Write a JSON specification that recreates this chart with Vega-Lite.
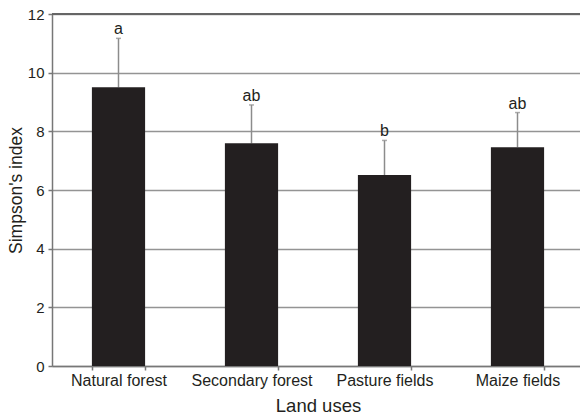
{
  "$schema": "https://vega.github.io/schema/vega-lite/v6.json",
  "autosize": {"type": "none"},
  "width": 532,
  "height": 352,
  "padding": {"left": 52, "top": 14, "right": 0, "bottom": 51},
  "background": "white",
  "config": {
    "view": {"stroke": null},
    "font": "Liberation Sans",
    "axis": {"labelColor": "#231f20", "titleColor": "#231f20", "titleFontWeight": "normal"}
  },
  "data": {
    "values": [
      {"land": "Natural forest", "mean": 9.5, "err": 11.17, "letter": "a"},
      {"land": "Secondary forest", "mean": 7.59, "err": 8.9, "letter": "ab"},
      {"land": "Pasture fields", "mean": 6.51, "err": 7.69, "letter": "b"},
      {"land": "Maize fields", "mean": 7.46, "err": 8.64, "letter": "ab"}
    ]
  },
  "encoding": {
    "x": {
      "field": "land",
      "type": "nominal",
      "sort": null,
      "scale": {"paddingInner": 0.6, "paddingOuter": 0.3},
      "axis": {
        "title": "Land uses",
        "labelAngle": 0,
        "labelFontSize": 16,
        "titleFontSize": 18.5,
        "tickBand": "extent",
        "tickSize": 4,
        "tickColor": "#777",
        "tickWidth": 1.5,
        "domainColor": "#777",
        "domainWidth": 1.5,
        "labelPadding": 2,
        "titleY": 39,
        "titleBaseline": "middle",
        "grid": false
      }
    }
  },
  "layer": [
    {
      "mark": {"type": "rule", "color": "#8c8c8c", "strokeWidth": 1.5},
      "encoding": {
        "y": {"field": "mean", "type": "quantitative"},
        "y2": {"field": "err"}
      }
    },
    {
      "mark": {"type": "tick", "color": "#8c8c8c", "size": 5, "thickness": 1.5, "orient": "horizontal"},
      "encoding": {
        "y": {"field": "err", "type": "quantitative"}
      }
    },
    {
      "mark": {"type": "bar", "color": "#231f20"},
      "encoding": {
        "y": {
          "field": "mean",
          "type": "quantitative",
          "scale": {"domain": [0, 12], "nice": false},
          "axis": {
            "title": "Simpson's index",
            "values": [0, 2, 4, 6, 8, 10, 12],
            "labelFontSize": 15,
            "titleFontSize": 17.5,
            "grid": true,
            "gridColor": "#949494",
            "gridWidth": 1.5,
            "tickSize": 4,
            "tickColor": "#777",
            "tickWidth": 1.5,
            "domainColor": "#777",
            "domainWidth": 1.5,
            "labelPadding": 4,
            "titleX": -36,
            "titleY": 176,
            "titleBaseline": "middle",
            "titleAlign": "center"
          }
        }
      }
    },
    {
      "mark": {"type": "rule", "color": "#666", "strokeWidth": 1.5},
      "encoding": {"y": {"datum": 12, "type": "quantitative"}, "x": {"value": 0}, "x2": {"value": 532}}
    },
    {
      "mark": {"type": "text", "fontSize": 16, "color": "#231f20", "baseline": "alphabetic", "dy": -4},
      "encoding": {
        "y": {"field": "err", "type": "quantitative"},
        "text": {"field": "letter"}
      }
    }
  ]
}
